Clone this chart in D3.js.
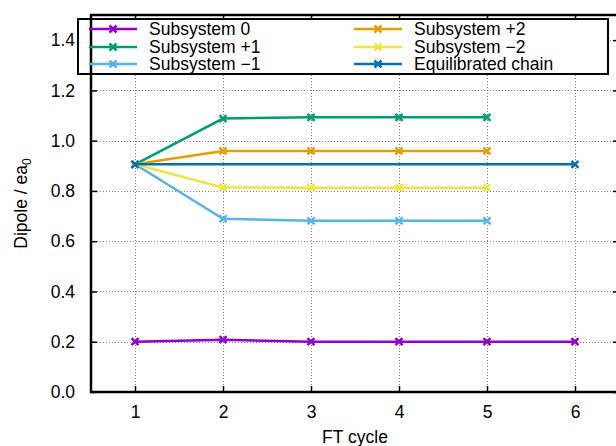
<!DOCTYPE html>
<meta charset="utf-8">
<script src="https://cdn.jsdelivr.net/npm/d3@7"></script>
<style>
  body { margin: 0; background: #fff; }
  text { font-family: "Liberation Sans", Arial, sans-serif; fill: #000; }
</style>
<body>
<script>

// FT cycle index for every series
var cycles = [1, 2, 3, 4, 5, 6];

// dipole values (ea0)
var sub0      = [0.200, 0.208, 0.200, 0.200, 0.200, 0.200];
var subPlus1  = [0.906, 1.088, 1.093, 1.093, 1.093];
var subMinus1 = [0.906, 0.689, 0.681, 0.681, 0.681];
var subPlus2  = [0.906, 0.959, 0.959, 0.959, 0.959];
var subMinus2 = [0.906, 0.814, 0.813, 0.813, 0.813];
var eqCycles  = [1, 6];
var eqChain   = [0.906, 0.906];

var yTicks = [0.0, 0.2, 0.4, 0.6, 0.8, 1.0, 1.2, 1.4];
var xTicks = [1, 2, 3, 4, 5, 6];

var series = [
  { name: "Subsystem 0",        color: "#9400d3", xs: cycles,   ys: sub0 },
  { name: "Subsystem +1",       color: "#009e73", xs: cycles,   ys: subPlus1 },
  { name: "Subsystem \u22121",  color: "#56b4e9", xs: cycles,   ys: subMinus1 },
  { name: "Subsystem +2",       color: "#e69f00", xs: cycles,   ys: subPlus2 },
  { name: "Subsystem \u22122",  color: "#f0e442", xs: cycles,   ys: subMinus2 },
  { name: "Equilibrated chain", color: "#0072b2", xs: eqCycles, ys: eqChain }
];

var W = 616, H = 446;
var pLeft = 91, pRight = 619, pTop = 15, pBottom = 392;
var fs = 17.5;

var svg = d3.select("body").append("svg")
    .attr("width", W)
    .attr("height", H)
    .style("display", "block");

var x = d3.scaleLinear().domain([0.5, 6.5]).range([pLeft, pRight]);
var y = d3.scaleLinear().domain([0, 1.5]).range([pBottom, pTop]);

// grid
var grid = svg.append("g")
    .attr("stroke", "#808080")
    .attr("stroke-width", 1)
    .attr("stroke-dasharray", "1,2");
grid.selectAll(".gx").data(xTicks).enter().append("line")
    .attr("x1", d => x(d) + 0.5).attr("x2", d => x(d) + 0.5)
    .attr("y1", pTop).attr("y2", pBottom);
grid.selectAll(".gy").data(yTicks.filter(d => d > 0)).enter().append("line")
    .attr("x1", pLeft).attr("x2", pRight)
    .attr("y1", d => Math.round(y(d)) + 0.5).attr("y2", d => Math.round(y(d)) + 0.5);

// axes with inward ticks, mirrored on top and right
var tk = 6;
svg.append("g").attr("transform", "translate(0," + pBottom + ")")
    .call(d3.axisBottom(x).tickValues(xTicks).tickSize(-tk).tickPadding(14).tickFormat(d3.format("d")))
    .call(g => g.select(".domain").remove())
    .call(g => g.selectAll("line").attr("stroke-width", 1.5))
    .call(g => g.selectAll("text").attr("font-size", fs).attr("fill", "#000"));
svg.append("g").attr("transform", "translate(0," + pTop + ")")
    .call(d3.axisTop(x).tickValues(xTicks).tickSize(-tk).tickFormat(""))
    .call(g => g.select(".domain").remove())
    .call(g => g.selectAll("line").attr("stroke-width", 1.5));
svg.append("g").attr("transform", "translate(" + pLeft + ",0)")
    .call(d3.axisLeft(y).tickValues(yTicks).tickSize(-tk).tickPadding(16).tickFormat(d3.format(".1f")))
    .call(g => g.select(".domain").remove())
    .call(g => g.selectAll("line").attr("stroke-width", 1.5))
    .call(g => g.selectAll("text").attr("font-size", fs).attr("fill", "#000"));
svg.append("g").attr("transform", "translate(" + pRight + ",0)")
    .call(d3.axisRight(y).tickValues(yTicks).tickSize(-tk).tickFormat(""))
    .call(g => g.select(".domain").remove())
    .call(g => g.selectAll("line").attr("stroke-width", 1.5));

// frame
svg.append("rect")
    .attr("x", pLeft).attr("y", pTop)
    .attr("width", pRight - pLeft).attr("height", pBottom - pTop)
    .attr("fill", "none").attr("stroke", "#000").attr("stroke-width", 2.5);

// series
var line = d3.line().x(d => x(d[0])).y(d => y(d[1]));

function cross(g, cx, cy, color) {
  var s = 3.5;
  g.append("path")
    .attr("d", "M" + (cx - s) + "," + (cy - s) + "L" + (cx + s) + "," + (cy + s) +
               "M" + (cx - s) + "," + (cy + s) + "L" + (cx + s) + "," + (cy - s))
    .attr("stroke", color).attr("stroke-width", 2.5).attr("fill", "none");
}

series.forEach(function(s) {
  var pts = s.ys.map((v, i) => [s.xs[i], v]);
  var g = svg.append("g");
  g.append("path").datum(pts)
    .attr("d", line)
    .attr("fill", "none")
    .attr("stroke", s.color)
    .attr("stroke-width", 2.5);
  pts.forEach(p => cross(g, x(p[0]), y(p[1]), s.color));
});

// legend
var leg = svg.append("g");
leg.append("rect")
    .attr("x", 78).attr("y", 19).attr("width", 530).attr("height", 55)
    .attr("fill", "#fff").attr("stroke", "#000").attr("stroke-width", 2);
// left axis passes through the key box
leg.append("line").attr("x1", pLeft).attr("x2", pLeft).attr("y1", 19).attr("y2", 74)
    .attr("stroke", "#000").attr("stroke-width", 2.5);

var colX = [89, 354], rowY = [29, 47, 64];
series.forEach(function(s, i) {
  var cx = colX[Math.floor(i / 3)], cy = rowY[i % 3];
  leg.append("line")
    .attr("x1", cx).attr("x2", cx + 48).attr("y1", cy).attr("y2", cy)
    .attr("stroke", s.color).attr("stroke-width", 2.5);
  cross(leg, cx + 24, cy, s.color);
  leg.append("text")
    .attr("x", cx + 60).attr("y", cy + 6)
    .attr("font-size", fs)
    .text(s.name);
});

// axis titles
var yl = svg.append("text")
    .attr("transform", "translate(27," + ((pTop + pBottom) / 2) + ") rotate(-90)")
    .attr("text-anchor", "middle")
    .attr("font-size", fs);
yl.append("tspan").text("Dipole / ea");
yl.append("tspan").attr("font-size", 12).attr("dy", 4).text("0");

svg.append("text")
    .attr("x", (pLeft + pRight) / 2).attr("y", 443)
    .attr("text-anchor", "middle")
    .attr("font-size", fs)
    .text("FT cycle");

</script>
</body>
